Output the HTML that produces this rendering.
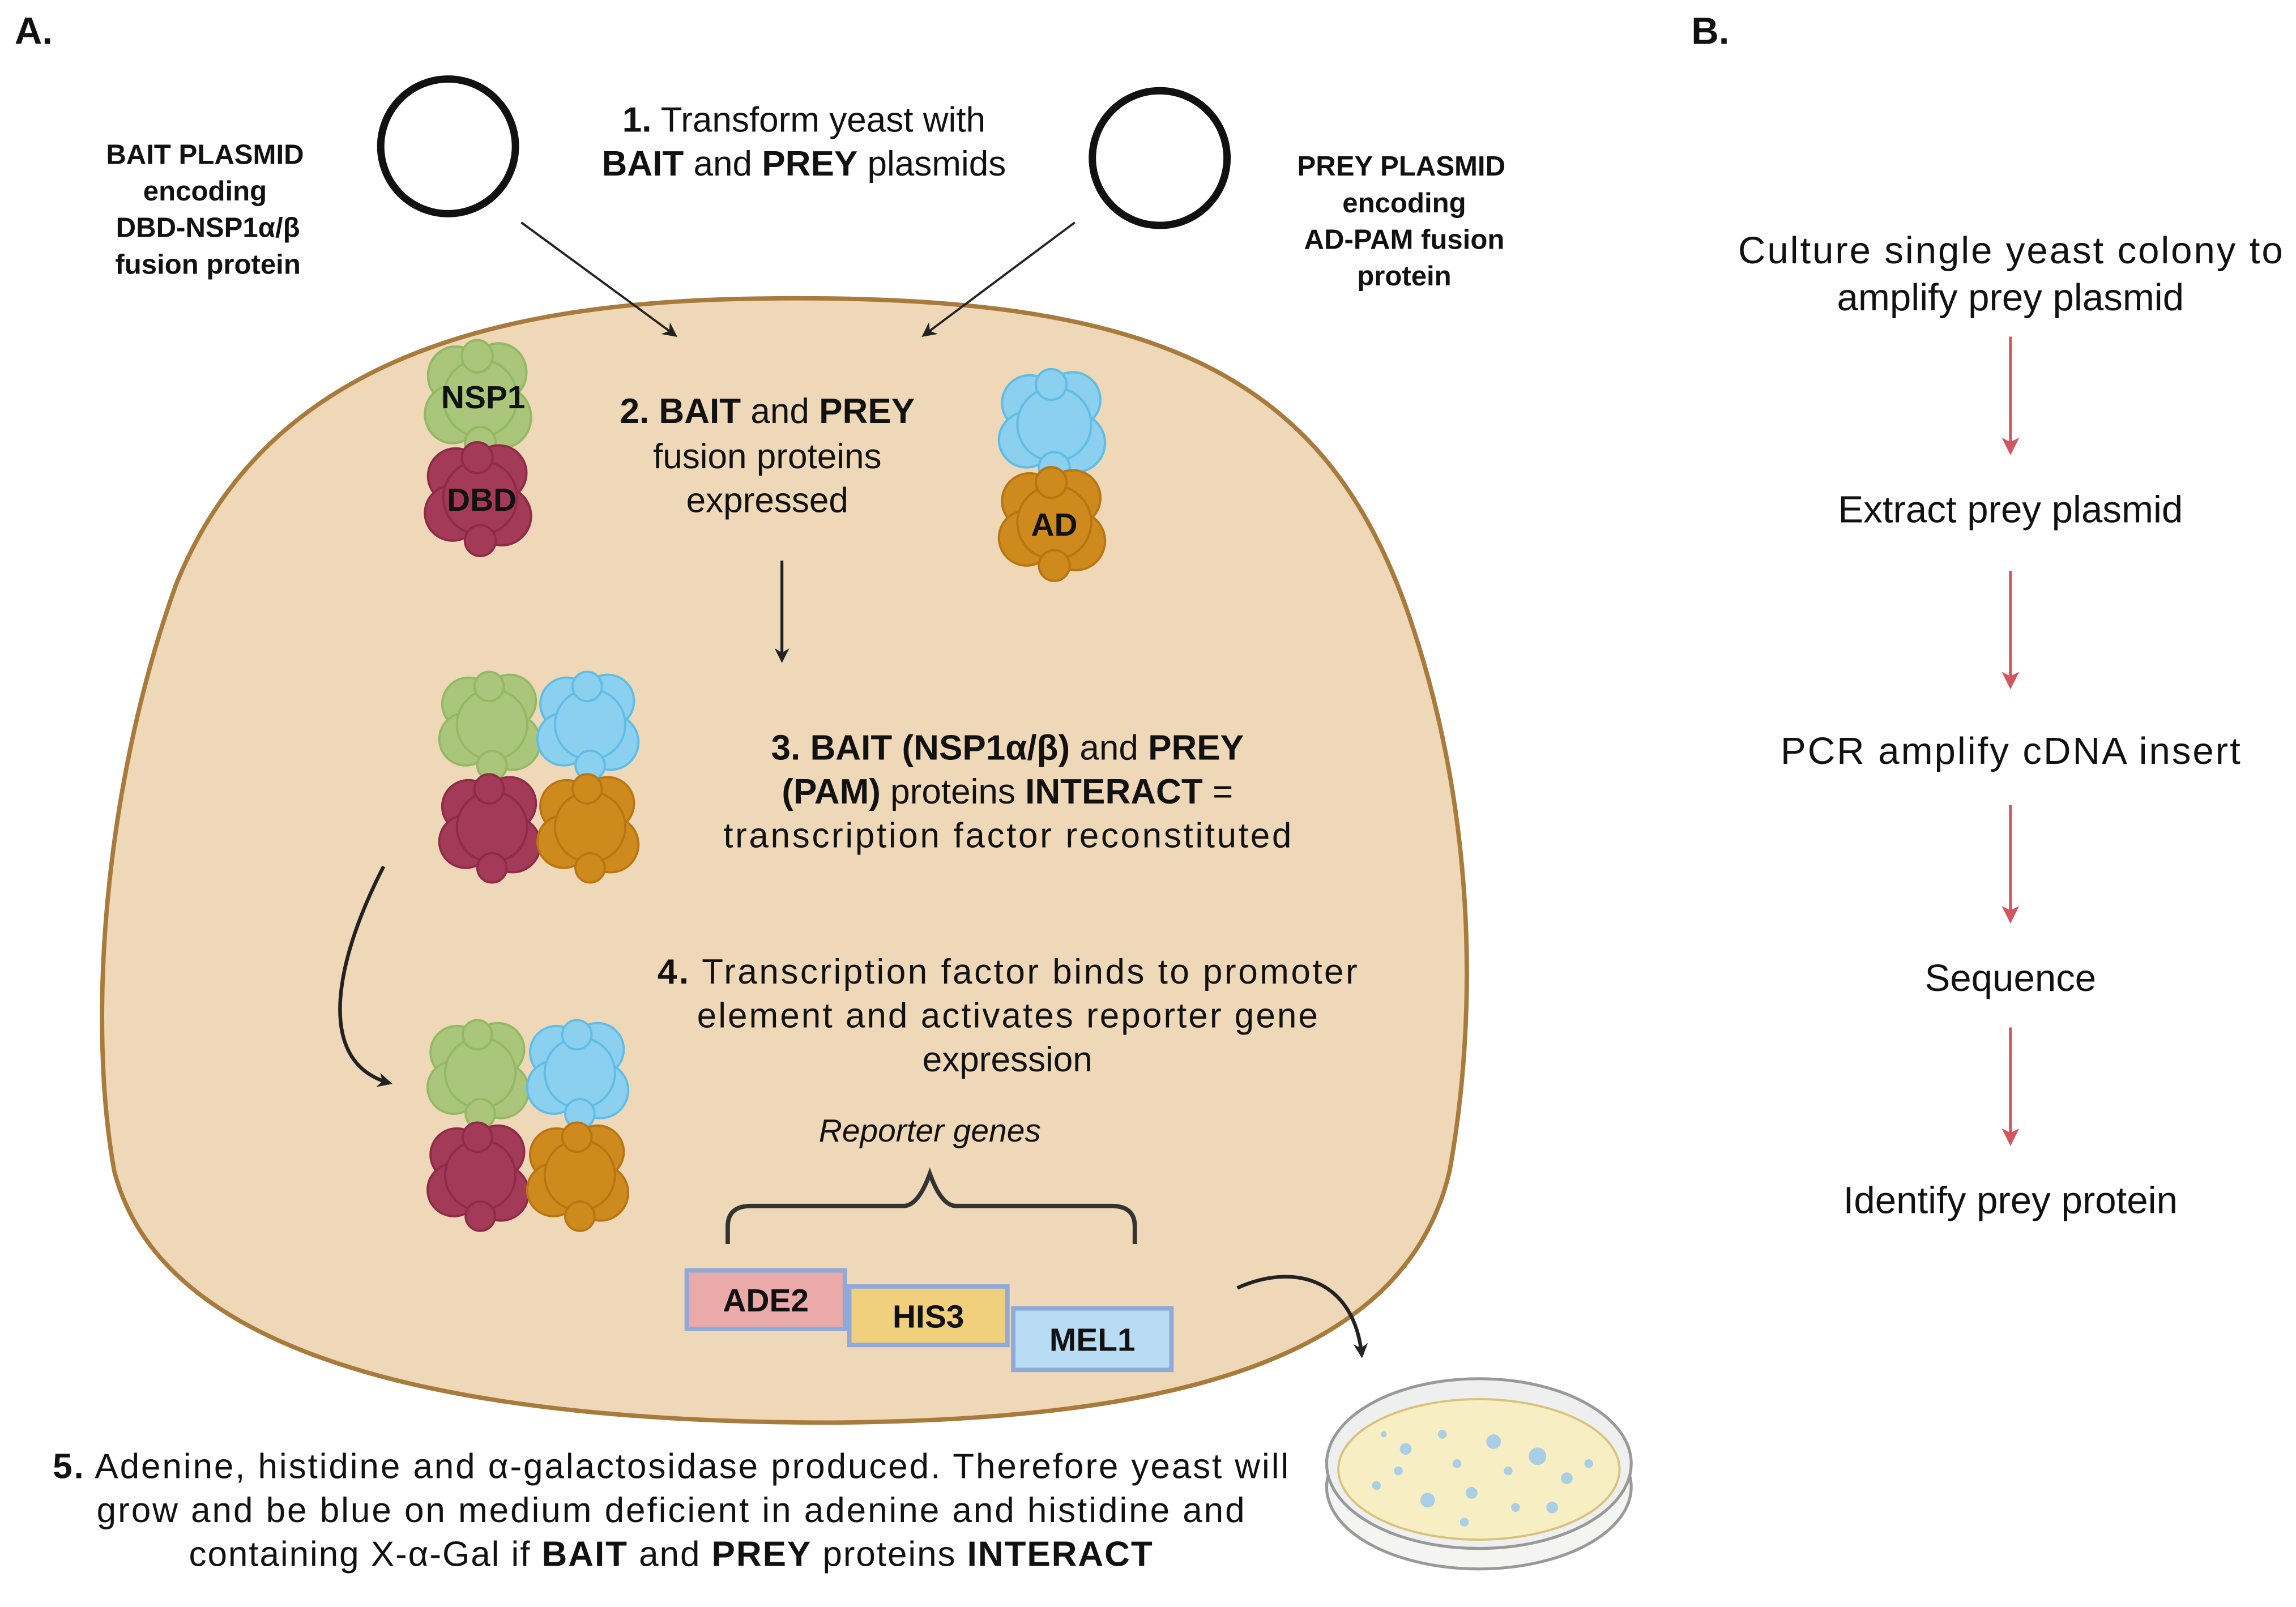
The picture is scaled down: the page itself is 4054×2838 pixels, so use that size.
<!DOCTYPE html>
<html><head><meta charset="utf-8"><style>
html,body{margin:0;padding:0;background:#fff;}
svg{display:block;}
text{font-family:"Liberation Sans",sans-serif;fill:#111;}
</style></head><body>
<svg width="4054" height="2838" viewBox="0 0 1568 1098" preserveAspectRatio="none" xmlns="http://www.w3.org/2000/svg">
<defs>
<marker id="ah" markerWidth="10" markerHeight="10" refX="8" refY="5" orient="auto" markerUnits="userSpaceOnUse"><path d="M0,0 L10,5 L0,10 L3,5 Z" fill="#222"/></marker>
<marker id="ahr" markerWidth="12" markerHeight="14" refX="10" refY="6" orient="auto" markerUnits="userSpaceOnUse"><path d="M0,0 L12,6 L0,12 L3,6 Z" fill="#d25560"/></marker>
<g id="blob"><circle cx="-16" cy="-14" r="18"/><circle cx="12" cy="-16" r="18"/><circle cx="-18" cy="10" r="18"/><circle cx="14" cy="12" r="19"/><circle cx="0" cy="0" r="24"/><circle cx="-2" cy="-26" r="10"/><circle cx="0" cy="28" r="10"/></g>
</defs>

<text x="10" y="30" font-size="26" font-weight="bold">A.</text>
<text x="1155" y="30" font-size="26" font-weight="bold">B.</text>

<!-- cell -->
<path d="M520 204 C 790 200, 905 255, 962 420 C 1010 560, 1008 700, 990 800 C 960 930, 800 970, 570 972 C 300 972, 110 925, 78 800 C 60 700, 70 540, 120 400 C 180 250, 330 206, 520 204 Z" fill="#eed8b7" stroke="#a87a3c" stroke-width="3"/>

<!-- plasmids -->
<circle cx="306" cy="100" r="46" fill="none" stroke="#111" stroke-width="5"/>
<circle cx="792" cy="108" r="46" fill="none" stroke="#111" stroke-width="5"/>

<g font-size="19" font-weight="bold" text-anchor="middle">
<text x="140" y="112">BAIT PLASMID</text><text x="140" y="137">encoding</text><text x="142" y="162">DBD-NSP1α/β</text><text x="142" y="187">fusion protein</text>
<text x="957" y="120">PREY PLASMID</text><text x="959" y="145">encoding</text><text x="959" y="170">AD-PAM fusion</text><text x="959" y="195">protein</text>
</g>

<g font-size="24" text-anchor="middle">
<text x="549" y="90"><tspan font-weight="bold">1.</tspan> Transform yeast with</text>
<text x="549" y="120"><tspan font-weight="bold">BAIT</tspan> and <tspan font-weight="bold">PREY</tspan> plasmids</text>
<text x="524" y="289"><tspan font-weight="bold">2. BAIT</tspan> and <tspan font-weight="bold">PREY</tspan></text>
<text x="524" y="320">fusion proteins</text>
<text x="524" y="350">expressed</text>
<text x="688" y="519"><tspan font-weight="bold">3. BAIT (NSP1α/β)</tspan> and <tspan font-weight="bold">PREY</tspan></text>
<text x="688" y="549"><tspan font-weight="bold">(PAM)</tspan> proteins <tspan font-weight="bold">INTERACT</tspan> =</text>
<text x="688" y="579" textLength="388">transcription factor reconstituted</text>
<text x="688" y="672" textLength="478"><tspan font-weight="bold">4.</tspan> Transcription factor binds to promoter</text>
<text x="688" y="702" textLength="424">element and activates reporter gene</text>
<text x="688" y="732">expression</text>
<text x="635" y="780" font-style="italic" font-size="22">Reporter genes</text>
<text x="458" y="1010" textLength="844"><tspan font-weight="bold">5.</tspan> Adenine, histidine and α-galactosidase produced. Therefore yeast will</text>
<text x="458" y="1040" textLength="784">grow and be blue on medium deficient in adenine and histidine and</text>
<text x="458" y="1070" textLength="658">containing X-α-Gal if <tspan font-weight="bold">BAIT</tspan> and <tspan font-weight="bold">PREY</tspan> proteins <tspan font-weight="bold">INTERACT</tspan></text>
</g>

<!-- arrows -->
<g stroke="#222" stroke-width="1.5" fill="none">
<line x1="356" y1="152" x2="461" y2="229" marker-end="url(#ah)"/>
<line x1="734" y1="152" x2="631" y2="229" marker-end="url(#ah)"/>
<line x1="534" y1="383" x2="534" y2="451" stroke-width="2" marker-end="url(#ah)"/>
<path d="M262 592 C 232 650, 212 725, 266 740" stroke-width="2.5" marker-end="url(#ah)"/>
<path d="M845 880 C 885 862, 925 875, 930 926" stroke-width="2.5" marker-end="url(#ah)"/>
</g>

<!-- proteins -->
<g stroke-width="1.5">
<use href="#blob" transform="translate(328,272) scale(1.05,1.1)" fill="#a9c67a" stroke="#95b865"/>
<use href="#blob" transform="translate(328,340) scale(1.05,1.05)" fill="#a33a58" stroke="#8f2b47"/>
<use href="#blob" transform="translate(720,290) scale(1.05,1.05)" fill="#8bd0ee" stroke="#5fbde6"/>
<use href="#blob" transform="translate(720,357) scale(1.05,1.05)" fill="#cf8a1e" stroke="#b87612"/>
<use href="#blob" transform="translate(336,495)" fill="#a9c67a" stroke="#95b865"/>
<use href="#blob" transform="translate(336,565)" fill="#a33a58" stroke="#8f2b47"/>
<use href="#blob" transform="translate(403,495)" fill="#8bd0ee" stroke="#5fbde6"/>
<use href="#blob" transform="translate(403,565)" fill="#cf8a1e" stroke="#b87612"/>
<use href="#blob" transform="translate(328,733)" fill="#a9c67a" stroke="#95b865"/>
<use href="#blob" transform="translate(328,803)" fill="#a33a58" stroke="#8f2b47"/>
<use href="#blob" transform="translate(396,733)" fill="#8bd0ee" stroke="#5fbde6"/>
<use href="#blob" transform="translate(396,803)" fill="#cf8a1e" stroke="#b87612"/>
</g>
<g font-size="22" font-weight="bold" text-anchor="middle">
<text x="330" y="279">NSP1</text><text x="329" y="349">DBD</text><text x="720" y="366">AD</text>
</g>

<!-- brace -->
<path d="M497 850 L497 838 Q497 824 513 824 L617 824 Q627 824 635 802 Q643 824 653 824 L759 824 Q775 824 775 838 L775 850" fill="none" stroke="#333" stroke-width="3"/>

<!-- gene boxes -->
<rect x="469" y="868" width="108" height="40" fill="#e9aaa9" stroke="#8fa9d8" stroke-width="3"/>
<rect x="580" y="879" width="108" height="40" fill="#f0cf7d" stroke="#8fa9d8" stroke-width="3"/>
<rect x="692" y="894" width="108" height="42" fill="#b9dcf5" stroke="#8fa9d8" stroke-width="3"/>
<g font-size="22" font-weight="bold" text-anchor="middle">
<text x="523" y="896">ADE2</text><text x="634" y="907">HIS3</text><text x="746" y="923">MEL1</text>
</g>

<!-- petri dish -->
<ellipse cx="1010" cy="1016" rx="104" ry="56" fill="#f4f4f2" stroke="#999" stroke-width="2"/>
<ellipse cx="1010" cy="1000" rx="104" ry="58" fill="#eef0f0" stroke="#999" stroke-width="2"/>
<ellipse cx="1010" cy="1004" rx="96" ry="48" fill="#f7eec4" stroke="#d9c27a" stroke-width="1.5"/>
<g fill="#a9cfe6">
<circle cx="960" cy="990" r="4"/><circle cx="985" cy="980" r="3"/><circle cx="1020" cy="985" r="5"/><circle cx="1050" cy="995" r="6"/><circle cx="1070" cy="1010" r="4"/><circle cx="940" cy="1015" r="3"/><circle cx="975" cy="1025" r="5"/><circle cx="1005" cy="1020" r="4"/><circle cx="1035" cy="1030" r="3"/><circle cx="1085" cy="1000" r="3"/><circle cx="995" cy="1000" r="3"/><circle cx="1030" cy="1005" r="3"/><circle cx="955" cy="1005" r="3"/><circle cx="1060" cy="1030" r="4"/><circle cx="1000" cy="1040" r="3"/><circle cx="945" cy="980" r="2"/>
</g>

<!-- B -->
<g font-size="26" text-anchor="middle">
<text x="1373" y="180" textLength="372">Culture single yeast colony to</text>
<text x="1373" y="212">amplify prey plasmid</text>
<text x="1373" y="357">Extract prey plasmid</text>
<text x="1373" y="522" textLength="314">PCR amplify cDNA insert</text>
<text x="1373" y="677">Sequence</text>
<text x="1373" y="829">Identify prey protein</text>
</g>
<g stroke="#d25560" stroke-width="2">
<line x1="1373" y1="230" x2="1373" y2="309" marker-end="url(#ahr)"/>
<line x1="1373" y1="390" x2="1373" y2="469" marker-end="url(#ahr)"/>
<line x1="1373" y1="550" x2="1373" y2="629" marker-end="url(#ahr)"/>
<line x1="1373" y1="702" x2="1373" y2="781" marker-end="url(#ahr)"/>
</g>
</svg>
</body></html>
